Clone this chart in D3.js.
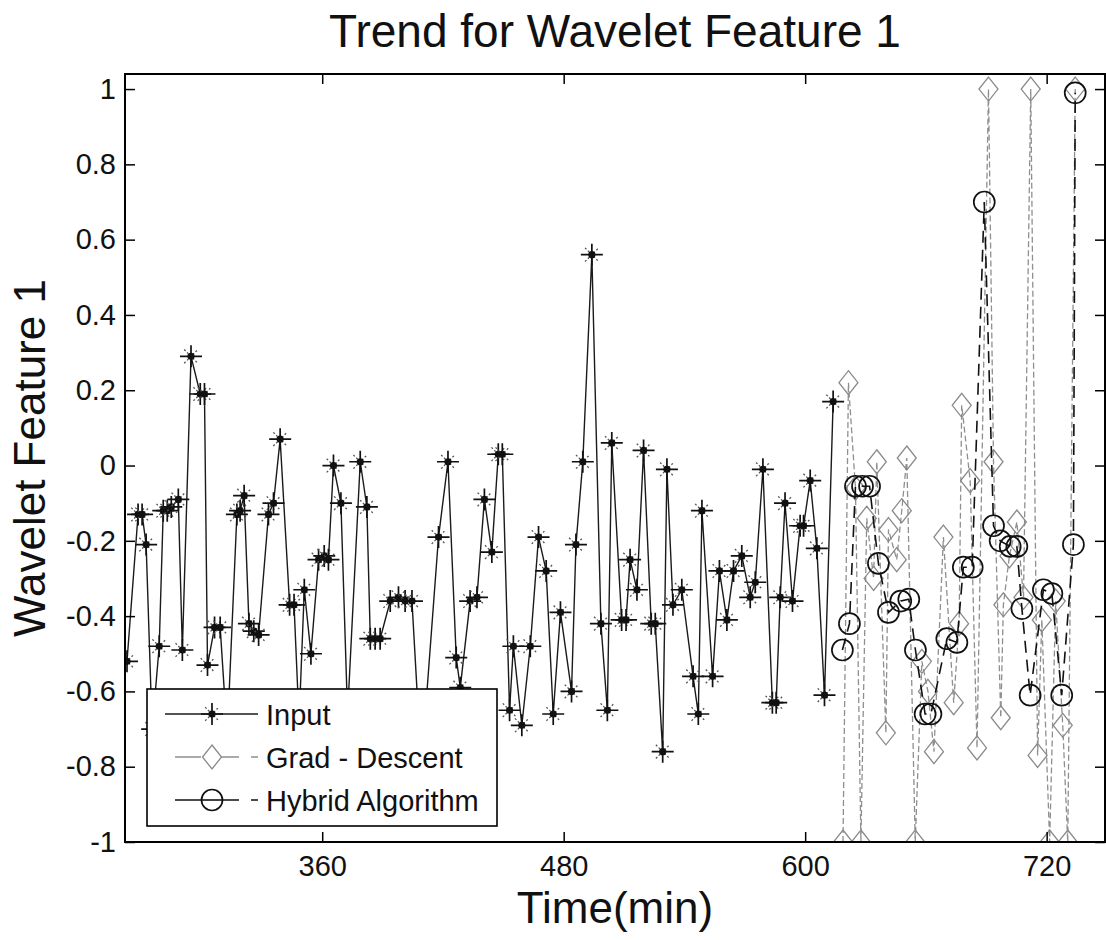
<!DOCTYPE html>
<html>
<head>
<meta charset="utf-8">
<script src="https://cdn.jsdelivr.net/npm/d3@7"></script>
<style>
  html, body { margin: 0; padding: 0; background: #fff; }
  svg { display: block; font-family: "Liberation Sans", Arial, Helvetica, sans-serif; }
</style>
</head>
<body>
<svg id="chart" width="1106" height="940"></svg>
<script>
// Measured input feature (time in minutes)
const inputTime = [263, 268.5, 270.5, 272.5, 275.5, 279, 281, 283, 285, 288.5, 290.5, 294.8, 299.4, 301.5, 303,
  306.5, 309.3, 312.8, 317.6, 319.2, 321.2, 323.6, 326, 328.4, 333.3, 335.8, 339.1, 343.8, 346, 348.5, 351.1,
  354.4, 358.2, 361, 363.1, 365.6, 369.3, 372.6, 378.9, 382.2, 383.9, 386.3, 388.8, 393.8, 397.9, 401.2, 404.6,
  408.2, 411.5, 417.8, 422.5, 426.6, 428.6, 433.5, 436.9, 440.6, 444.3, 447.5, 449.5, 453.1, 455, 459.2, 463.4,
  467.5, 471.3, 474.8, 478.4, 483.9, 486.1, 489.5, 494, 498.5, 501.7, 503.9, 508.8, 511, 513, 516.4, 519.7,
  523.5, 525.5, 529.2, 531.3, 534.3, 538.7, 544.3, 546.9, 548.7, 554, 557.4, 561.1, 564.4, 568.5, 572.7, 575.2,
  579, 583.7, 585.6, 587.6, 590, 593.7, 597.5, 599.2, 602.5, 605.8, 609.6, 613.9];
const inputValue = [-0.52, -0.13, -0.13, -0.21, -0.70, -0.48, -0.12, -0.12, -0.11, -0.09, -0.49, 0.29, 0.19, 0.19, -0.53,
  -0.43, -0.43, -0.72, -0.13, -0.12, -0.08, -0.42, -0.44, -0.45, -0.13, -0.10, 0.07, -0.37, -0.37, -0.68, -0.33,
  -0.50, -0.25, -0.24, -0.25, 0.00, -0.10, -0.66, 0.01, -0.11, -0.46, -0.46, -0.46, -0.36, -0.35, -0.36, -0.36,
  -0.70, -0.64, -0.19, 0.01, -0.51, -0.59, -0.36, -0.35, -0.09, -0.23, 0.03, 0.03, -0.65, -0.48, -0.69, -0.48,
  -0.19, -0.28, -0.66, -0.39, -0.60, -0.21, 0.01, 0.56, -0.42, -0.65, 0.06, -0.41, -0.41, -0.25, -0.33, 0.04,
  -0.42, -0.42, -0.76, -0.01, -0.37, -0.33, -0.56, -0.66, -0.12, -0.56, -0.28, -0.41, -0.28, -0.24, -0.35, -0.31,
  -0.01, -0.63, -0.63, -0.35, -0.10, -0.36, -0.16, -0.16, -0.04, -0.22, -0.61, 0.17];

// Gradient-descent prediction
const gradTime = [618.8, 621.5, 625, 627.7, 630.6, 634, 635.6, 640.1, 641.4, 645.5, 648, 650.5, 654.7, 658, 661,
  664, 668.7, 673.8, 676.5, 677.8, 682, 685.4, 691.1, 693.6, 697.2, 698.5, 701.5, 705.2, 708.5, 712.1, 715.5,
  717.6, 721.5, 724.5, 728, 730.5, 734.2];
const gradValue = [-1, 0.22, -0.06, -1, -0.14, -0.30, 0.01, -0.71, -0.17, -0.25, -0.12, 0.02, -1, -0.52, -0.60,
  -0.76, -0.19, -0.63, -0.42, 0.16, -0.04, -0.75, 1, 0.01, -0.67, -0.37, -0.24, -0.15, -0.35, 1, -0.77,
  -0.41, -1, -0.36, -0.69, -1, 1];

// Hybrid algorithm prediction
const hybridTime = [618.5, 622, 625, 628.5, 632, 636.4, 641.4, 647.5, 651.5, 654.8, 659.6, 662.5, 670.4, 675.4,
  678.6, 683, 689, 693.6, 696.9, 701.9, 705.2, 707.7, 711.8, 718.4, 722.6, 727.5, 733.3, 734.2];
const hybridValue = [-0.49, -0.42, -0.055, -0.055, -0.055, -0.26, -0.39, -0.36, -0.355, -0.49, -0.66, -0.66, -0.46, -0.47,
  -0.27, -0.27, 0.70, -0.16, -0.20, -0.215, -0.215, -0.38, -0.61, -0.33, -0.34, -0.61, -0.21, 0.99];

const xTicks = [360, 480, 600, 720];
const yTicks = [-1, -0.8, -0.6, -0.4, -0.2, 0, 0.2, 0.4, 0.6, 0.8, 1];
const xDomain = [262, 749];
const yDomain = [-1, 1.04];
const legendLabels = ["Input", "Grad - Descent", "Hybrid Algorithm"];
const titleText = "Trend for Wavelet Feature 1";
const xLabelText = "Time(min)";
const yLabelText = "Wavelet Feature 1";

const svg = d3.select("#chart");
const plot = { left: 125, right: 1105, top: 74, bottom: 842 };

const x = d3.scaleLinear().domain(xDomain).range([plot.left, plot.right]);
const y = d3.scaleLinear().domain(yDomain).range([plot.bottom, plot.top]);

svg.append("rect").attr("width", 1106).attr("height", 940).attr("fill", "#fff");

svg.append("defs").append("clipPath").attr("id", "plotClip")
  .append("rect")
  .attr("x", plot.left).attr("y", plot.top)
  .attr("width", plot.right - plot.left).attr("height", plot.bottom - plot.top);

// Marker shapes
const starPath = (s) => `M${-s},0H${s}M0,${-s}V${s}`;
const starDiag = (s) => { const d = s * 0.62; return `M${-d},${-d}L${d},${d}M${-d},${d}L${d},${-d}`; };
const diamondPath = (w, h) => `M0,${-h}L${w},0L0,${h}L${-w},0Z`;

const toPoints = (ts, vs) => ts.map((t, i) => [t, vs[i]]);
const inputPts = toPoints(inputTime, inputValue);
const gradPts = toPoints(gradTime, gradValue);
const hybridPts = toPoints(hybridTime, hybridValue);

const line = d3.line().x(d => x(d[0])).y(d => y(d[1]));
const g = svg.append("g").attr("clip-path", "url(#plotClip)");

// Input series
g.append("path").attr("d", line(inputPts))
  .attr("fill", "none").attr("stroke", "#1a1a1a").attr("stroke-width", 1.4);
const stars = g.append("g").selectAll("g").data(inputPts).join("g")
  .attr("transform", d => `translate(${x(d[0])},${y(d[1])})`);
stars.append("path").attr("d", starPath(11)).attr("stroke", "#111").attr("stroke-width", 1.7).attr("fill", "none");
stars.append("path").attr("d", starDiag(11)).attr("stroke", "#555").attr("stroke-width", 1.3)
  .attr("stroke-dasharray", "2,2").attr("fill", "none");
stars.append("circle").attr("r", 3.6).attr("fill", "#111");

// Gradient-descent series
g.append("path").attr("d", line(gradPts))
  .attr("fill", "none").attr("stroke", "#8f8f8f").attr("stroke-width", 1.3).attr("stroke-dasharray", "6,3");
g.append("g").selectAll("path").data(gradPts).join("path")
  .attr("transform", d => `translate(${x(d[0])},${y(d[1])})`)
  .attr("d", diamondPath(9.5, 12))
  .attr("fill", "none").attr("stroke", "#8a8a8a").attr("stroke-width", 1.3);

// Hybrid series
g.append("path").attr("d", line(hybridPts))
  .attr("fill", "none").attr("stroke", "#111").attr("stroke-width", 1.6).attr("stroke-dasharray", "12,7");
g.append("g").selectAll("circle").data(hybridPts).join("circle")
  .attr("cx", d => x(d[0])).attr("cy", d => y(d[1])).attr("r", 10.5)
  .attr("fill", "none").attr("stroke", "#111").attr("stroke-width", 1.7);

// Axes: ticks point inward on all four sides
const tickFont = 29;
const fmt = v => String(v);
const axL = svg.append("g").attr("transform", `translate(${plot.left},0)`)
  .call(d3.axisLeft(y).tickValues(yTicks).tickFormat(fmt).tickSizeInner(-10).tickSizeOuter(0).tickPadding(9));
const axR = svg.append("g").attr("transform", `translate(${plot.right},0)`)
  .call(d3.axisRight(y).tickValues(yTicks).tickFormat("").tickSizeInner(-10).tickSizeOuter(0));
const axB = svg.append("g").attr("transform", `translate(0,${plot.bottom})`)
  .call(d3.axisBottom(x).tickValues(xTicks).tickFormat(fmt).tickSizeInner(-10).tickSizeOuter(0).tickPadding(13));
const axT = svg.append("g").attr("transform", `translate(0,${plot.top})`)
  .call(d3.axisTop(x).tickValues(xTicks).tickFormat("").tickSizeInner(-10).tickSizeOuter(0));
[axL, axR, axB, axT].forEach(a => {
  a.select(".domain").remove();
  a.selectAll(".tick line").attr("stroke", "#000").attr("stroke-width", 1.5);
  a.selectAll(".tick text").attr("font-size", tickFont).attr("fill", "#111")
    .attr("font-family", "'Liberation Sans', Arial, sans-serif");
});

// Axes box
svg.append("rect")
  .attr("x", plot.left).attr("y", plot.top)
  .attr("width", plot.right - plot.left).attr("height", plot.bottom - plot.top)
  .attr("fill", "none").attr("stroke", "#000").attr("stroke-width", 2);

// Title and axis labels
svg.append("text").attr("x", (plot.left + plot.right) / 2).attr("y", 47)
  .attr("text-anchor", "middle").attr("font-size", 46).attr("fill", "#111").text(titleText);
svg.append("text").attr("x", (plot.left + plot.right) / 2).attr("y", 923)
  .attr("text-anchor", "middle").attr("font-size", 44).attr("fill", "#111").text(xLabelText);
svg.append("text")
  .attr("transform", `translate(45,${(plot.top + plot.bottom) / 2}) rotate(-90)`)
  .attr("text-anchor", "middle").attr("font-size", 44).attr("fill", "#111").text(yLabelText);

// Legend
const leg = svg.append("g");
leg.append("rect").attr("x", 147).attr("y", 689).attr("width", 350).attr("height", 137)
  .attr("fill", "#fff").attr("stroke", "#000").attr("stroke-width", 1.6);
const rowY = [714, 757, 800];
const sx0 = 165, sx1 = 258, mx = 212;
// Input entry
leg.append("line").attr("x1", sx0).attr("x2", sx1).attr("y1", rowY[0]).attr("y2", rowY[0])
  .attr("stroke", "#1a1a1a").attr("stroke-width", 1.4);
const ls = leg.append("g").attr("transform", `translate(${mx},${rowY[0]})`);
ls.append("path").attr("d", starPath(11)).attr("stroke", "#111").attr("stroke-width", 1.7);
ls.append("path").attr("d", starDiag(11)).attr("stroke", "#555").attr("stroke-width", 1.3).attr("stroke-dasharray", "2,2");
ls.append("circle").attr("r", 3.6).attr("fill", "#111");
// Gradient-descent entry
leg.append("line").attr("x1", sx0 + 10).attr("x2", sx1).attr("y1", rowY[1]).attr("y2", rowY[1])
  .attr("stroke", "#8f8f8f").attr("stroke-width", 1.3).attr("stroke-dasharray", "26,12");
leg.append("path").attr("transform", `translate(${mx},${rowY[1]})`).attr("d", diamondPath(9.5, 12))
  .attr("fill", "#fff").attr("stroke", "#8a8a8a").attr("stroke-width", 1.3);
// Hybrid entry
leg.append("line").attr("x1", sx0 + 10).attr("x2", sx1).attr("y1", rowY[2]).attr("y2", rowY[2])
  .attr("stroke", "#111").attr("stroke-width", 1.6).attr("stroke-dasharray", "26,12");
leg.append("circle").attr("cx", mx).attr("cy", rowY[2]).attr("r", 10.5)
  .attr("fill", "#fff").attr("stroke", "#111").attr("stroke-width", 1.7);
leg.append("line").attr("x1", mx - 10.5).attr("x2", mx + 10.5).attr("y1", rowY[2]).attr("y2", rowY[2])
  .attr("stroke", "#111").attr("stroke-width", 1.6);

leg.selectAll("text.lab").data(legendLabels).join("text").attr("class", "lab")
  .attr("x", 266).attr("y", (d, i) => rowY[i] + 11)
  .attr("font-size", 29).attr("fill", "#111").text(d => d);
</script>
</body>
</html>
